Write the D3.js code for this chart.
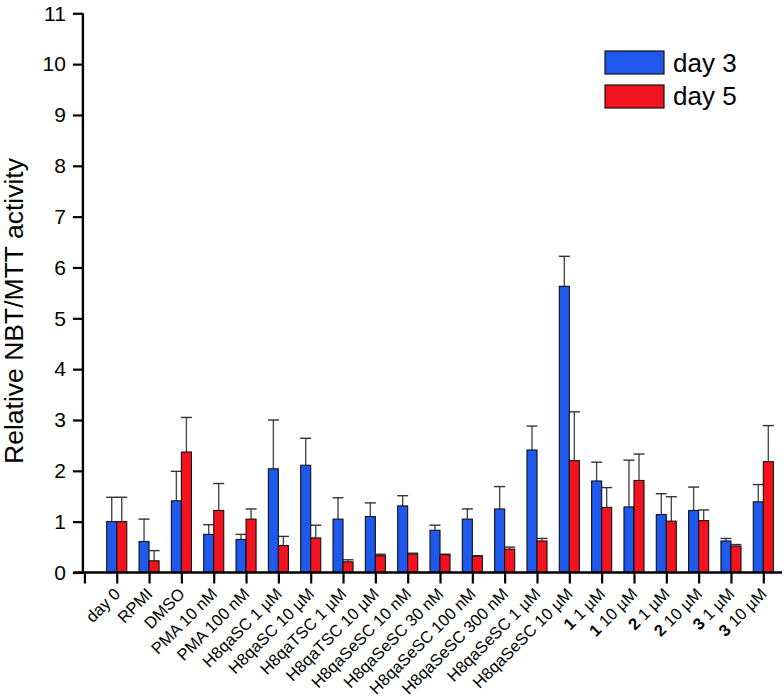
<!DOCTYPE html>
<html>
<head>
<meta charset="utf-8">
<script src="https://cdn.jsdelivr.net/npm/d3@7"></script>
<style>
  html, body { margin: 0; padding: 0; background: #fff; }
  svg { display: block; }
  text { font-family: "Liberation Sans", Arial, sans-serif; fill: #000; }
</style>
</head>
<body>
<svg id="chart" width="784" height="700"></svg>
<script>
// ---- data ----
const categories = [
  {bold: "", rest: "day 0"},
  {bold: "", rest: "RPMI"},
  {bold: "", rest: "DMSO"},
  {bold: "", rest: "PMA 10 nM"},
  {bold: "", rest: "PMA 100 nM"},
  {bold: "", rest: "H8qaSC 1 µM"},
  {bold: "", rest: "H8qaSC 10 µM"},
  {bold: "", rest: "H8qaTSC 1 µM"},
  {bold: "", rest: "H8qaTSC 10 µM"},
  {bold: "", rest: "H8qaSeSC 10 nM"},
  {bold: "", rest: "H8qaSeSC 30 nM"},
  {bold: "", rest: "H8qaSeSC 100 nM"},
  {bold: "", rest: "H8qaSeSC 300 nM"},
  {bold: "", rest: "H8qaSeSC 1 µM"},
  {bold: "", rest: "H8qaSeSC 10 µM"},
  {bold: "1", rest: " 1 µM"},
  {bold: "1", rest: " 10 µM"},
  {bold: "2", rest: " 1 µM"},
  {bold: "2", rest: " 10 µM"},
  {bold: "3", rest: " 1 µM"},
  {bold: "3", rest: " 10 µM"}
];
const day3 =    [1.00, 0.61, 1.41, 0.75, 0.65, 2.04, 2.11, 1.05, 1.10, 1.31, 0.83, 1.05, 1.25, 2.41, 5.63, 1.80, 1.29, 1.14, 1.22, 0.62, 1.39];
const day3Err = [1.48, 1.05, 1.99, 0.94, 0.75, 3.00, 2.64, 1.47, 1.37, 1.51, 0.93, 1.25, 1.69, 2.88, 6.22, 2.17, 2.21, 1.55, 1.68, 0.67, 1.73];
const day5 =    [1.00, 0.23, 2.37, 1.22, 1.05, 0.53, 0.68, 0.21, 0.33, 0.36, 0.35, 0.32, 0.46, 0.62, 2.20, 1.28, 1.81, 1.01, 1.02, 0.52, 2.18];
const day5Err = [1.48, 0.43, 3.05, 1.75, 1.25, 0.71, 0.93, 0.25, 0.36, 0.38, 0.36, 0.33, 0.50, 0.67, 3.16, 1.67, 2.33, 1.49, 1.23, 0.55, 2.89];
const yTicks = [0,1,2,3,4,5,6,7,8,9,10,11];
const seriesNames = ["day 3", "day 5"];
const seriesColors = ["#1e58ec", "#f2131f"];

// ---- layout ----
const svg = d3.select("#chart");
const x = d3.scaleLinear().domain([-1, 20]).range([84.4, 763.3]);
const y = d3.scaleLinear().domain([0, 11]).range([572.5, 13.3]);
const step = x(1) - x(0);
const bw = step * 0.31;

const series = [
  {name: seriesNames[0], vals: day3, errs: day3Err, color: seriesColors[0], off: -1},
  {name: seriesNames[1], vals: day5, errs: day5Err, color: seriesColors[1], off: 0}
];

// bars + error bars
series.forEach(s => {
  const g = svg.append("g");
  g.selectAll("line.ev").data(s.vals).join("line")
    .attr("x1", (d,i) => x(i) + s.off*bw + bw/2)
    .attr("x2", (d,i) => x(i) + s.off*bw + bw/2)
    .attr("y1", d => y(d))
    .attr("y2", (d,i) => y(s.errs[i]))
    .attr("stroke", "#4a4a4a").attr("stroke-width", 1.4);
  g.selectAll("line.ec").data(s.errs).join("line")
    .attr("x1", (d,i) => x(i) + s.off*bw - 0.5)
    .attr("x2", (d,i) => x(i) + s.off*bw + bw + 0.5)
    .attr("y1", d => y(d)).attr("y2", d => y(d))
    .attr("stroke", "#333").attr("stroke-width", 1.4);
});
series.forEach(s => {
  svg.append("g").selectAll("rect").data(s.vals).join("rect")
    .attr("x", (d,i) => x(i) + s.off*bw)
    .attr("y", d => y(d))
    .attr("width", bw)
    .attr("height", d => y(0) - y(d))
    .attr("fill", s.color)
    .attr("stroke", "#111").attr("stroke-width", 1.1);
});

// y axis
const yAxis = svg.append("g").attr("transform", `translate(${x(-1) - 1.5},0)`)
  .call(d3.axisLeft(y).tickValues(yTicks).tickFormat(d3.format("d")).tickSize(10).tickPadding(7));
yAxis.select(".domain").attr("stroke", "#000").attr("stroke-width", 2.4)
  .attr("d", `M0,${y(11)}V${y(0)}`);
yAxis.selectAll(".tick line").attr("stroke", "#000").attr("stroke-width", 2.2);
yAxis.selectAll(".tick text").style("font-size", "21px")
  .style("font-family", "'Liberation Sans', Arial, sans-serif").attr("fill", "#000");

// x axis
const idx = d3.range(-1, 21);
const xAxis = svg.append("g").attr("transform", `translate(0,${y(0)})`)
  .call(d3.axisBottom(x).tickValues(idx).tickFormat("").tickSize(11));
xAxis.select(".domain").attr("stroke", "#000").attr("stroke-width", 2.6)
  .attr("d", `M${x(-1) - 11},0H782`);
xAxis.selectAll(".tick line").attr("stroke", "#000").attr("stroke-width", 2.2);

// x labels
const lab = svg.append("g").selectAll("text").data(categories).join("text")
  .attr("transform", (d,i) => `translate(${x(i) + 4.5},${y(0) + 22.5}) rotate(-45)`)
  .attr("text-anchor", "end")
  .style("font-size", "16.5px");
lab.each(function(d) {
  const t = d3.select(this);
  if (d.bold) t.append("tspan").attr("font-weight", "bold").text(d.bold);
  t.append("tspan").text(d.rest);
});

// y label
svg.append("text")
  .attr("transform", `translate(23,311) rotate(-90)`)
  .attr("text-anchor", "middle")
  .style("font-size", "26.5px")
  .text("Relative NBT/MTT activity");

// legend
const leg = svg.append("g");
series.forEach((s, k) => {
  leg.append("rect").attr("x", 605).attr("y", 51 + k*34).attr("width", 59).attr("height", 23)
    .attr("fill", s.color).attr("stroke", "#111").attr("stroke-width", 1.2);
  leg.append("text").attr("x", 673).attr("y", 71.5 + k*33.5)
    .style("font-size", "26px").text(s.name);
});
</script>
</body>
</html>
